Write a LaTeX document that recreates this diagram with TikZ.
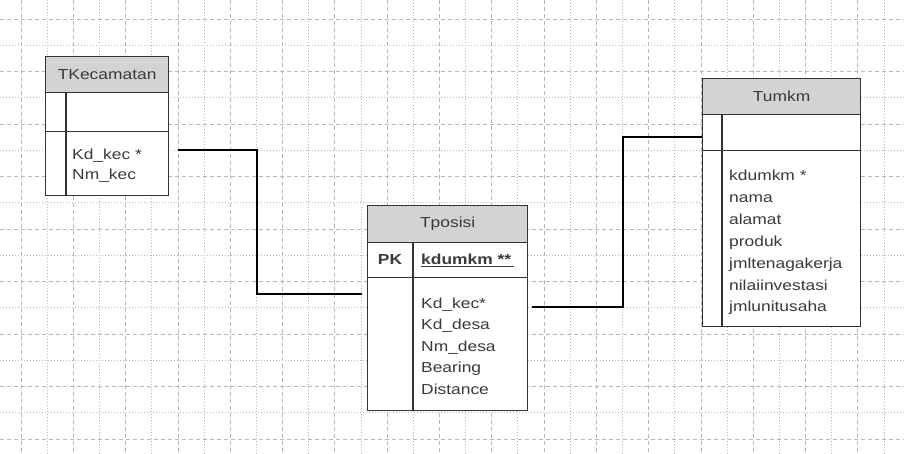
\documentclass[tikz,border=0pt]{standalone}
\usepackage{fontspec}
\setmainfont{Liberation Sans}[FakeStretch=1.2]
\definecolor{gridc}{HTML}{B8B8B8}
\definecolor{hdrfill}{HTML}{D3D3D3}
\definecolor{txtc}{HTML}{3A3A3A}
\definecolor{edgec}{HTML}{333333}
\begin{document}
\begin{tikzpicture}[x=1pt,y=-1pt,
  gridA/.style={draw=gridc, line width=0.8pt, dash pattern=on 4pt off 3pt},
  gridB/.style={draw=gridc, line width=0.8pt, dash pattern=on 1pt off 2pt},
  tbox/.style={draw=edgec, line width=1.3pt, rectangle, inner sep=0pt, anchor=north west},
  hdr/.style={tbox, fill=hdrfill, text=txtc, font=\fontsize{14.5}{17}\selectfont},
  rowbox/.style={tbox, fill=white},
  tline/.style={draw=edgec, line width=1.3pt},
  fld/.style={anchor=base west, inner sep=0pt, text=txtc, font=\fontsize{14.5}{17}\selectfont},
  conn/.style={draw=black, line width=1.4pt}
]
\useasboundingbox (0,0) rectangle (904,454);
\fill[white] (0,0) rectangle (904,454);
% grid
\foreach \i in {0,2,...,32} \draw[gridA] ({21+26.15*\i},0) -- ({21+26.15*\i},454);
\foreach \i in {1,3,...,33} \draw[gridB] ({21+26.15*\i},0) -- ({21+26.15*\i},454);
\foreach \j in {0,2,...,16} \draw[gridA] (0,{19+26.25*\j}) -- (904,{19+26.25*\j});
\foreach \j in {1,3,...,15} \draw[gridB] (0,{19+26.25*\j}) -- (904,{19+26.25*\j});

% TKecamatan
\node[hdr, minimum width=123, minimum height=36] (kech) at (45,56) {TKecamatan};
\node[rowbox, minimum width=123, minimum height=39] (keck) at (45,92) {};
\node[rowbox, minimum width=123, minimum height=64] (kecb) at (45,131) {};
\draw[tline] (66,92) -- (66,195);
\node[fld] (kec1) at (72,160) {Kd\_kec *};
\node[fld] (kec2) at (72,180) {Nm\_kec};

% Tposisi
\node[hdr, minimum width=160, minimum height=37] (posh) at (367,205) {Tposisi};
\node[rowbox, minimum width=160, minimum height=35] (posk) at (367,242) {};
\node[rowbox, minimum width=160, minimum height=133] (posb) at (367,277) {};
\draw[tline] (413,242) -- (413,410);
\node[fld, anchor=base, font=\fontsize{14.5}{17}\selectfont\bfseries] (pk) at (390,265) {PK};
\node[fld, font=\fontsize{14.5}{17}\selectfont\bfseries] (pkf) at (421,265) {\underline{kdumkm **\,}};
\foreach \t [count=\i] in {Kd\_kec*, Kd\_desa, Nm\_desa, Bearing, Distance}
  \node[fld] (pos\i) at (421,{308+21.5*(\i-1)}) {\t};

% Tumkm
\node[hdr, minimum width=158, minimum height=36] (umh) at (702,78) {Tumkm};
\node[rowbox, minimum width=158, minimum height=36] (umk) at (702,114) {};
\node[rowbox, minimum width=158, minimum height=176] (umb) at (702,150) {};
\draw[tline] (722,114) -- (722,326);
\foreach \t [count=\i] in {kdumkm *, nama, alamat, produk, jmltenagakerja, nilaiinvestasi, jmlunitusaha}
  \node[fld] (um\i) at (729,{181+21.8*(\i-1)}) {\t};

% connectors
\coordinate (c1a) at (178,150);
\coordinate (c1b) at (362,294);
\draw[conn] (c1a) -- ++(79,0) |- (c1b);
\coordinate (c2a) at (532,307);
\coordinate (c2b) at (702,137);
\draw[conn] (c2a) -- ++(91,0) |- (c2b);
\end{tikzpicture}
\end{document}
